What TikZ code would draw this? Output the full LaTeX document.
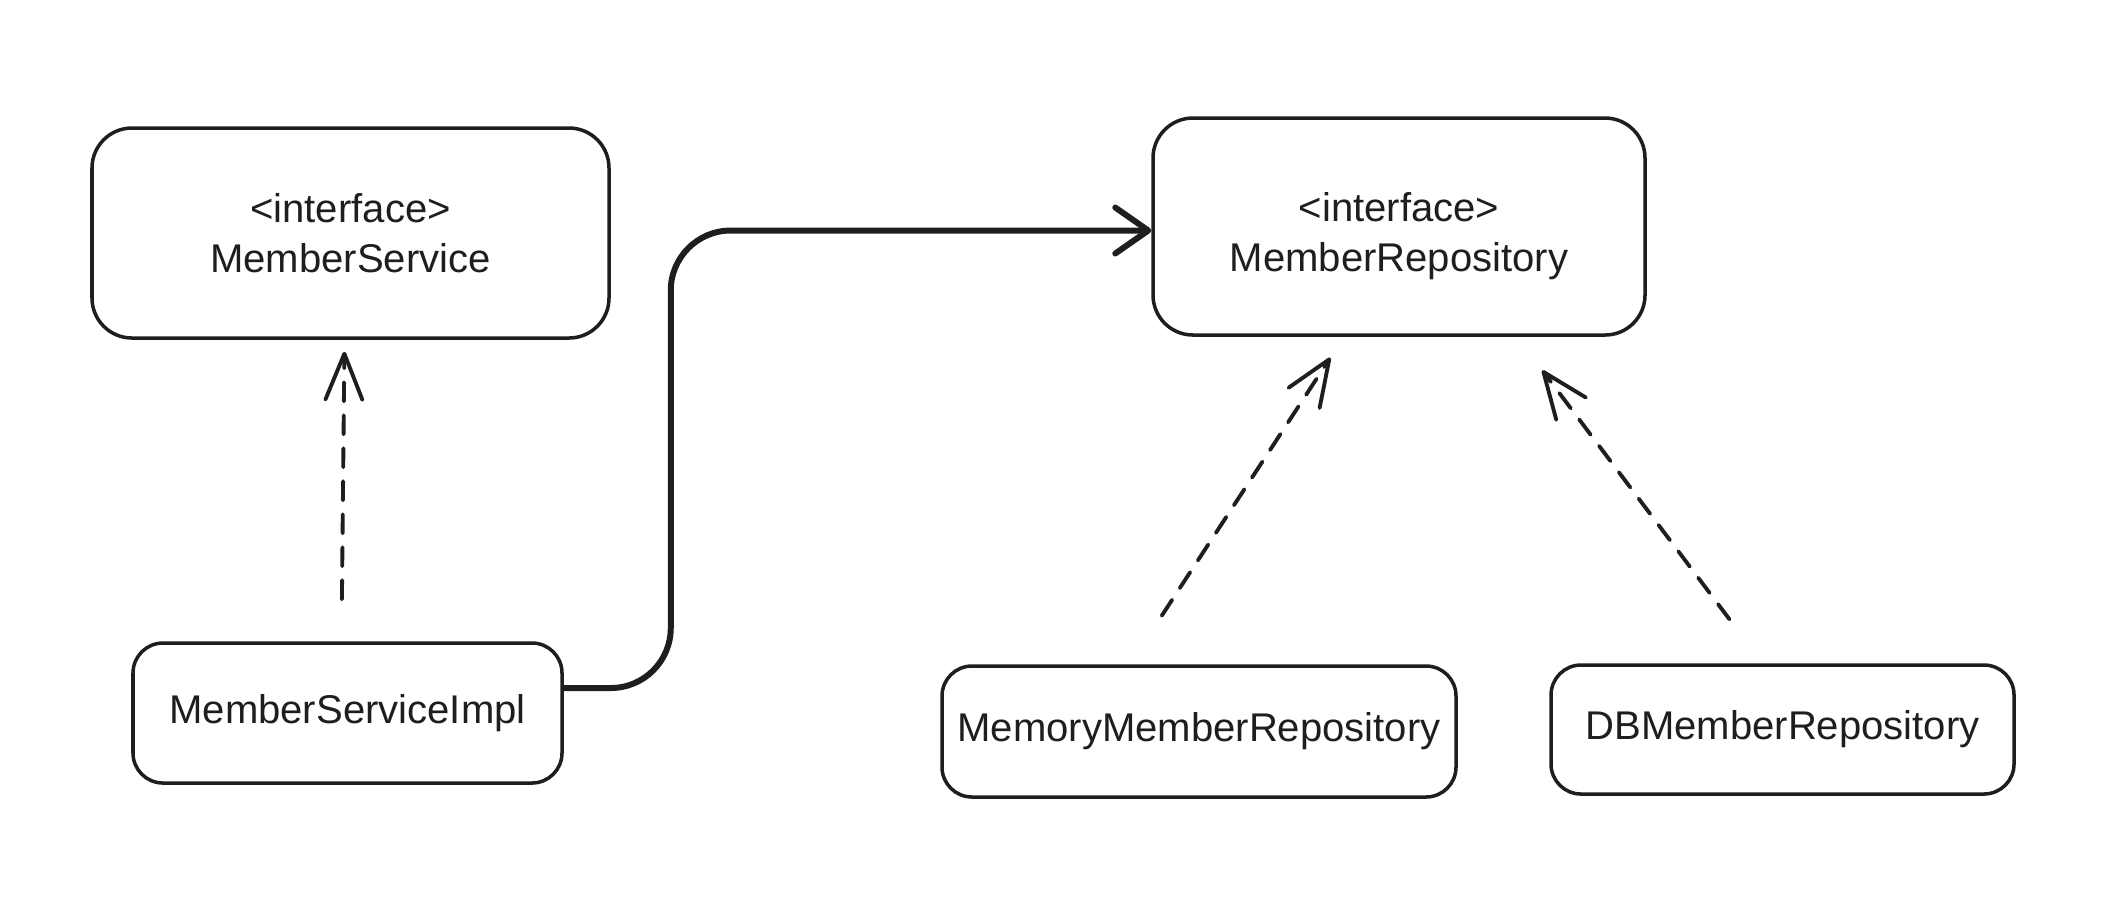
\documentclass[tikz,border=0pt]{standalone}
\usepackage{fontspec}
\setmainfont{Liberation Sans}
\usetikzlibrary{arrows.meta,calc,positioning}
\definecolor{ink}{HTML}{1E1E1E}
\tikzset{cls/.style={draw=ink, line width=1pt, text=ink, align=center, rounded corners=4mm},
  impl/.style={draw=ink, line width=1.1pt, line cap=round, dash pattern=on 1.9mm off 1.4mm,
    -{Straight Barb[length=4.6mm, width=3.7mm, round]}},
  uses/.style={draw=ink, line width=1.7pt, line cap=round, rounded corners=6mm,
    -{Straight Barb[length=3.3mm, width=4.6mm, round]}}}

\begin{document}
\begin{tikzpicture}[font=\fontsize{11.4}{14.2}\selectfont]
  \useasboundingbox (0,0) rectangle (21.28,-9.02);
  % interfaces
  \node[cls, minimum width=51.7mm, minimum height=21mm] (msvc) at (3.505,-2.33) {<interface>\\MemberService};
  \node[cls, minimum width=49.2mm, minimum height=21.7mm] (mrepo) at (13.99,-2.265) {\rule{0pt}{13.5pt}<interface>\\MemberRepository};
  % implementations
  \node[cls, rounded corners=3mm, minimum width=42.9mm, minimum height=14mm] (mimpl) at (3.475,-7.13) {MemberServiceImpl};
  \node[cls, rounded corners=3mm, minimum width=51.4mm, minimum height=13.1mm] (memrepo) at (11.99,-7.315) {MemoryMemberRepository};
  \node[cls, rounded corners=3mm, minimum width=46.3mm, minimum height=12.9mm] (dbrepo) at (17.825,-7.295) {DBMemberRepository};
  % realisation
  \draw[impl, shorten <=4.2mm, shorten >=1.2mm] ([xshift=-0.6mm]mimpl.north) -- ([xshift=-0.6mm]msvc.south);
  \draw[impl, shorten <=5.8mm, shorten >=2.5mm] ([xshift=-6.9mm]memrepo.north) -- ([xshift=-5.5mm]mrepo.south);
  \draw[impl, shorten <=5.5mm, shorten >=4.2mm] ([xshift=-2mm]dbrepo.north) -- ([xshift=11.8mm]mrepo.south);
  % dependency
  \draw[uses] ([yshift=2.5mm]mimpl.east) -- ++(1.07,0) |- ([yshift=-0.4mm]mrepo.west);
\end{tikzpicture}
\end{document}
